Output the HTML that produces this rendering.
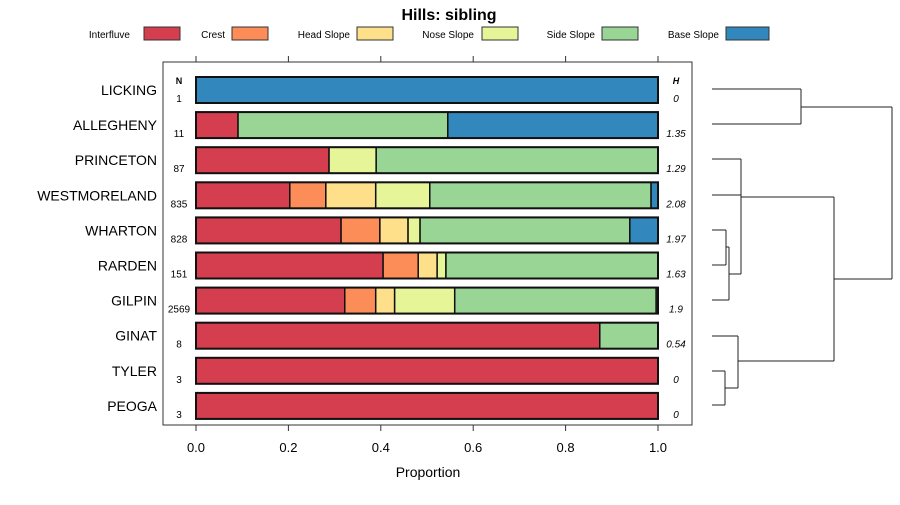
<!DOCTYPE html>
<html><head><meta charset="utf-8"><style>
body{margin:0;background:#fff;font-family:"Liberation Sans",sans-serif}
svg text{font-family:"Liberation Sans",sans-serif}
</style></head><body>
<svg id="c" width="900" height="500"></svg>
<script>
const names=["LICKING","ALLEGHENY","PRINCETON","WESTMORELAND","WHARTON","RARDEN","GILPIN","GINAT","TYLER","PEOGA"];
const nVals=[1,11,87,835,828,151,2569,8,3,3];
const hVals=["0","1.35","1.29","2.08","1.97","1.63","1.9","0.54","0","0"];
const classes=["Interfluve","Crest","Head Slope","Nose Slope","Side Slope","Base Slope"];
const interfluve=[0,0.091,0.288,0.203,0.314,0.405,0.322,0.874,1,1];
const crest=[0,0,0,0.078,0.084,0.076,0.067,0,0,0];
const headSlope=[0,0,0,0.108,0.061,0.041,0.041,0,0,0];
const noseSlope=[0,0,0.102,0.117,0.026,0.019,0.130,0,0,0];
const sideSlope=[0,0.454,0.610,0.479,0.454,0.459,0.436,0.126,0,0];
const baseSlope=[1,0.455,0,0.015,0.061,0,0.004,0,0,0];
const xTicks=[0,0.2,0.4,0.6,0.8,1.0];
const colors=["#D53E4F","#FC8D59","#FEE08B","#E6F598","#99D594","#3288BD"];
const series=[interfluve,crest,headSlope,noseSlope,sideSlope,baseSlope];
const svg=document.getElementById('c');const NS="http://www.w3.org/2000/svg";
function el(t,a,p){const e=document.createElementNS(NS,t);for(const k in a)e.setAttribute(k,a[k]);(p||svg).appendChild(e);return e;}
const x=v=>196+v*462, y=i=>90+i*35.1;
let t=el('text',{x:449,y:20,'text-anchor':'middle','font-size':16,'font-weight':'bold'});t.textContent="Hills: sibling";

const legX=[[130,144,36],[225,232,36],[350,357,36],[474,482,36],[595,602,36],[719,726,43]];
classes.forEach((c,k)=>{const g=el('g',{});

const tx=el('text',{x:legX[k][0],y:38,'text-anchor':'end','font-size':10},g);tx.textContent=c;
el('rect',{x:legX[k][1],y:27,width:legX[k][2],height:13,fill:colors[k],stroke:'#333','stroke-width':1},g);});
const frame=el('rect',{x:163,y:62,width:529,height:363,fill:'none',stroke:'#333','stroke-width':1});

xTicks.forEach(v=>{el('line',{x1:x(v),x2:x(v),y1:425,y2:431,stroke:'#333'});el('line',{x1:x(v),x2:x(v),y1:62,y2:56,stroke:'#333'});
const l=el('text',{x:x(v),y:452,'text-anchor':'middle','font-size':13});l.textContent=v.toFixed(1);
});
t=el('text',{x:428,y:477,'text-anchor':'middle','font-size':14});t.textContent="Proportion";

t=el('text',{x:179,y:84,'text-anchor':'middle','font-size':9,'font-weight':'bold'});t.textContent="N";
t=el('text',{x:676,y:84,'text-anchor':'middle','font-size':9,'font-weight':'bold','font-style':'italic'});t.textContent="H";
names.forEach((n,i)=>{const cy=y(i);
const lb=el('text',{x:157,y:cy+5,'text-anchor':'end','font-size':14});lb.textContent=n;

const nt=el('text',{x:179,y:cy+12,'text-anchor':'middle','font-size':10});nt.textContent=nVals[i];

const ht=el('text',{x:676,y:cy+12,'text-anchor':'middle','font-size':10,'font-style':'italic'});ht.textContent=hVals[i];

let acc=0;series.forEach((s,k)=>{const v=s[i];if(v>0){const r=el('rect',{x:x(acc),y:cy-13,width:x(acc+v)-x(acc),height:26,fill:colors[k],stroke:'#111','stroke-width':1.5});
}acc+=v;});
const o=el('rect',{x:x(0),y:cy-13,width:x(1)-x(0),height:26,fill:'none',stroke:'#111','stroke-width':2});
});
const dg=el('g',{stroke:'#222','stroke-width':1,fill:'none'});

[[712,89,801,89],[712,124,801,124],[801,89,801,124],[801,107,892,107],[892,107,892,279],[834,279,892,279],
[834,197,834,361],[712,159,741,159],[712,195,741,195],[741,159,741,274],[741,197,834,197],
[712,230,726,230],[712,265,726,265],[726,230,726,265],[726,247,729,247],[729,247,729,300],[712,300,729,300],[729,274,741,274],
[712,336,738,336],[738,336,738,388],[712,371,725,371],[712,405,725,405],[725,371,725,405],[725,388,738,388],[738,361,834,361]]
.forEach(s=>el('line',{x1:s[0],y1:s[1],x2:s[2],y2:s[3]},dg));
</script>
</body></html>
